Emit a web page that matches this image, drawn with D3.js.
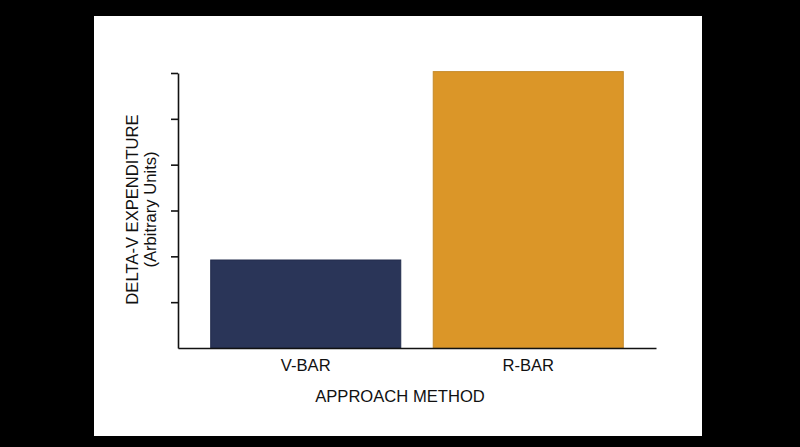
<!DOCTYPE html>
<html lang="en">
<head>
  <meta charset="utf-8" />
  <script src="https://d3js.org/d3.v7.min.js"></script>
  <style>
    html, body { margin: 0; padding: 0; background: #000; }
  </style>
</head>
<body>
  <div id="chart"></div>
  <script>
    'use strict';

    // data
    const categories = ["V-BAR", "R-BAR"];
    const values = [1.92, 6.03];
    const barColors = ["#2a3558", "#db9628"];
    const barStrokes = ["#222c4c", "#c48a2a"];
    const yTicks = [1, 2, 3, 4, 5, 6];
    const xTitle = "APPROACH METHOD";
    const yTitle = ["DELTA-V EXPENDITURE", "(Arbitrary Units)"];

    const width = 800;
    const height = 447;
    const fontFamily = "'Liberation Sans', Arial, sans-serif";
    const fontSize = 16.6;

    // plot box
    const plotLeft = 178, plotRight = 656, plotTop = 73, plotBottom = 348;

    const svg = d3.select("#chart")
      .append("svg")
      .attr("width", width)
      .attr("height", height);

    svg.append("rect")
      .attr("width", width).attr("height", height)
      .attr("fill", "#000");

    // white page
    svg.append("rect")
      .attr("x", 94).attr("y", 16)
      .attr("width", 608).attr("height", 420)
      .attr("fill", "#fff");

    const x = d3.scaleBand()
      .domain(categories)
      .range([plotLeft, plotRight])
      .paddingInner(0.146)
      .paddingOuter(0.147);

    const y = d3.scaleLinear()
      .domain([0, 6])
      .range([plotBottom, plotTop]);

    // bars
    svg.append("g")
      .selectAll("rect")
      .data(categories)
      .join("rect")
      .attr("x", d => x(d))
      .attr("y", (d, i) => y(values[i]))
      .attr("width", x.bandwidth())
      .attr("height", (d, i) => y(0) - y(values[i]))
      .attr("fill", (d, i) => barColors[i])
      .attr("stroke", (d, i) => barStrokes[i])
      .attr("stroke-width", 1);

    // y axis, ticks without labels
    const yAxis = svg.append("g")
      .attr("transform", `translate(${plotLeft},0)`)
      .call(d3.axisLeft(y).tickValues(yTicks).tickSize(7).tickFormat("").tickSizeOuter(0));
    yAxis.select(".domain").attr("stroke", "#111").attr("stroke-width", 1.6);
    yAxis.selectAll(".tick line").attr("stroke", "#111").attr("stroke-width", 1.6);

    // x axis
    const xAxis = svg.append("g")
      .attr("transform", `translate(0,${plotBottom})`)
      .call(d3.axisBottom(x).tickSize(0).tickPadding(11).tickSizeOuter(0));
    xAxis.select(".domain").attr("stroke", "#111").attr("stroke-width", 1.6);
    xAxis.selectAll(".tick text")
      .attr("font-family", fontFamily)
      .attr("font-size", fontSize)
      .attr("fill", "#111");

    // axis titles
    svg.append("text")
      .attr("x", (plotLeft + plotRight) / 2 - 17)
      .attr("y", 402)
      .attr("text-anchor", "middle")
      .attr("font-family", fontFamily)
      .attr("font-size", fontSize)
      .attr("fill", "#111")
      .text(xTitle);

    const yMid = (plotTop + plotBottom) / 2 - 1;
    yTitle.forEach((line, i) => {
      svg.append("text")
        .attr("transform", `translate(${138 + i * 18},${yMid}) rotate(-90)`)
        .attr("text-anchor", "middle")
        .attr("font-family", fontFamily)
        .attr("font-size", fontSize)
        .attr("fill", "#111")
        .text(line);
    });
  </script>
</body>
</html>
